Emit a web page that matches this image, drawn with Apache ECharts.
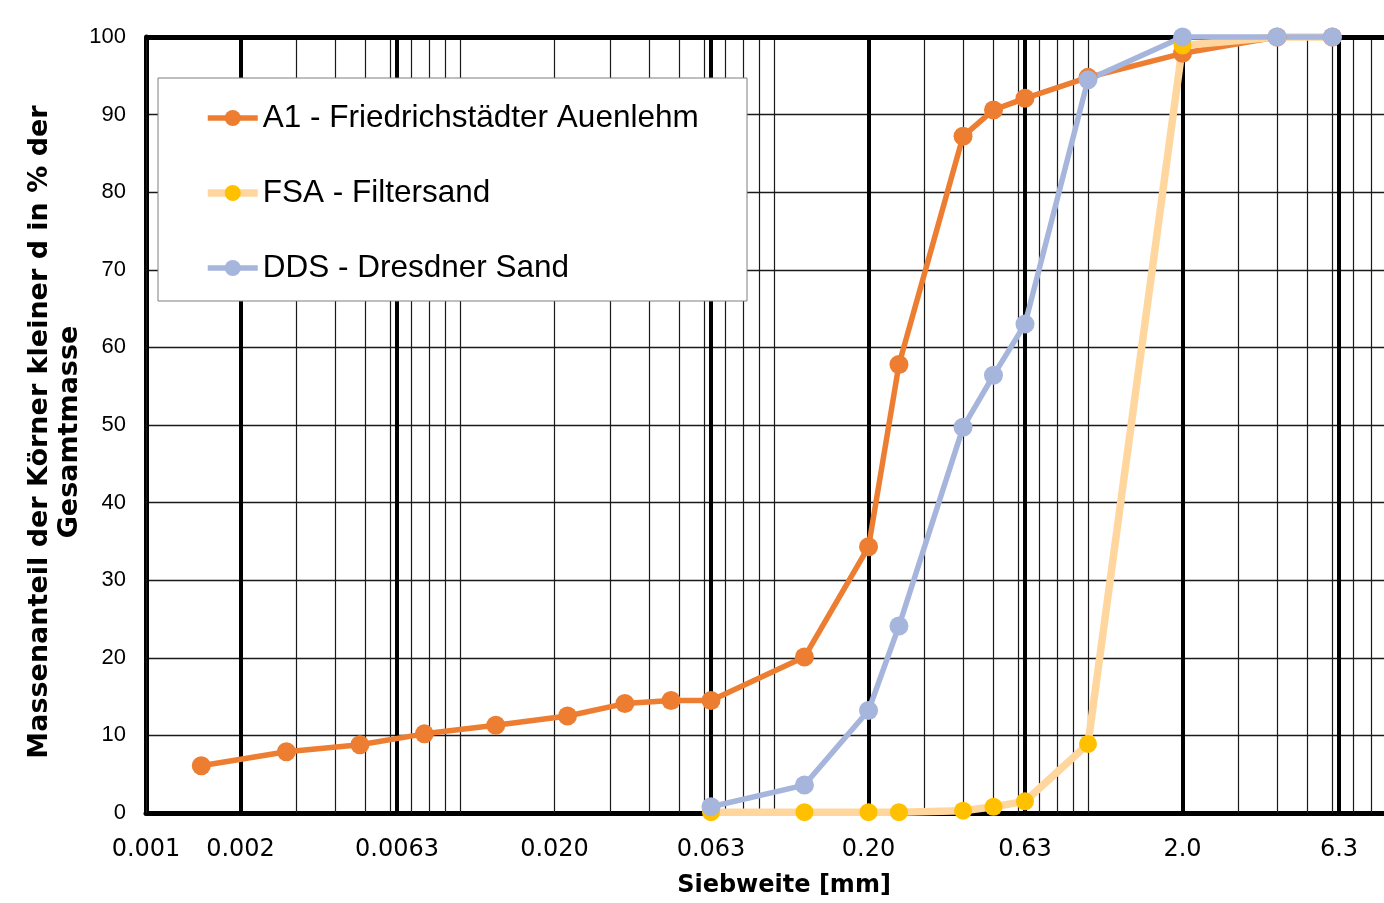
<!DOCTYPE html>
<html>
<head>
<meta charset="utf-8">
<script src="https://cdn.jsdelivr.net/npm/echarts@6.0.0/dist/echarts.min.js"></script>
<style>
  html, body { margin: 0; padding: 0; background: #ffffff; }
  #chart { width: 1384px; height: 903px; }
</style>
</head>
<body>
<div id="chart"></div>
<script>
// ---- Data (sieve size in mm, mass passing in %) ----
const seriesNames = ['A1 - Friedrichstädter Auenlehm', 'FSA - Filtersand', 'DDS - Dresdner Sand'];

const a1Sizes  = [0.0015, 0.0028, 0.0048, 0.0077, 0.013, 0.022, 0.0335, 0.047, 0.063, 0.125, 0.2, 0.25, 0.4, 0.5, 0.63, 1.0, 2.0, 4.0, 6.0];
const a1Values = [6.1, 7.9, 8.8, 10.2, 11.3, 12.5, 14.1, 14.5, 14.5, 20.1, 34.3, 57.8, 87.2, 90.6, 92.1, 94.8, 97.9, 100, 100];

const sandSizes = [0.063, 0.125, 0.2, 0.25, 0.4, 0.5, 0.63, 1.0, 2.0, 4.0, 6.0];
const fsaValues = [0.1, 0.1, 0.1, 0.1, 0.3, 0.8, 1.5, 8.9, 98.9, 100, 100];
const ddsValues = [0.8, 3.6, 13.2, 24.1, 49.7, 56.4, 63.0, 94.5, 100, 100, 100];

// x-axis tick labels (sieve sizes) and which of them get a heavy grid line
const tickValues = [0.001, 0.002, 0.0063, 0.02, 0.063, 0.2, 0.63, 2.0, 6.3];
const tickLabels = ['0.001', '0.002', '0.0063', '0.020', '0.063', '0.20', '0.63', '2.0', '6.3'];
const majorTicks = [0.002, 0.0063, 0.063, 0.2, 0.63, 2.0, 6.3];

const yTitle = 'Massenanteil der Körner kleiner d in % der\nGesamtmasse';
const xTitle = 'Siebweite [mm]';

// ---- Grid lines (log grid: 1..9 x each decade) ----
function near(a, b) { return Math.abs(a - b) / b < 1e-6; }
const gridLineData = [];
for (let e = -3; e <= 0; e++) {
  for (let k = 1; k <= 9; k++) {
    const v = parseFloat((k * Math.pow(10, e)).toPrecision(6));
    if (tickValues.some(t => near(t, v))) continue;
    gridLineData.push({ xAxis: v, lineStyle: { width: 1.2, color: '#1a1a1a', type: 'solid' } });
  }
}
tickValues.forEach((v, i) => {
  const major = majorTicks.some(t => near(t, v));
  gridLineData.push({
    xAxis: v,
    lineStyle: { width: major ? 4 : 1.2, color: major ? '#000' : '#1a1a1a', type: 'solid' },
    label: {
      show: true, position: 'start', distance: 25, formatter: tickLabels[i],
      fontFamily: 'DejaVu Sans', fontSize: 24, color: '#000'
    }
  });
});
// heavy top border
gridLineData.push({ yAxis: 100, lineStyle: { width: 5, color: '#000', type: 'solid' } });

const pairs = (xs, ys) => xs.map((x, i) => [x, ys[i]]);

const chart = echarts.init(document.getElementById('chart'), null, { renderer: 'canvas' });
chart.setOption({
  animation: false,
  backgroundColor: '#ffffff',
  grid: { left: 146, top: 37, right: -18, bottom: 90, containLabel: false, outerBoundsMode: 'none' },
  xAxis: {
    type: 'log', logBase: 10, min: 0.001, max: 10,
    name: xTitle, nameLocation: 'middle', nameGap: 61, nameMoveOverlap: false,
    nameTextStyle: { fontFamily: 'DejaVu Sans', fontWeight: 'bold', fontSize: 24, color: '#000', padding: [0, 0, 0, 20] },
    axisLine: { show: true, lineStyle: { color: '#000', width: 5 } },
    axisTick: { show: false },
    axisLabel: { show: false },
    splitLine: { show: false },
    minorSplitLine: { show: false }
  },
  yAxis: {
    type: 'value', min: 0, max: 100, interval: 10,
    name: yTitle, nameLocation: 'middle', nameGap: 61, nameMoveOverlap: false,
    nameTextStyle: { fontFamily: 'DejaVu Sans', fontWeight: 'bold', fontSize: 27, lineHeight: 30, color: '#000', padding: [0, 14, 0, 0] },
    axisLine: { show: true, lineStyle: { color: '#000', width: 5 } },
    axisTick: { show: false },
    axisLabel: { fontFamily: 'Liberation Sans', fontSize: 22, color: '#000', margin: 20 },
    splitLine: { show: true, lineStyle: { color: '#1a1a1a', width: 1.3 } }
  },
  legend: {
    data: seriesNames,
    orient: 'vertical',
    left: 204, top: 102,
    itemWidth: 50, itemHeight: 20, itemGap: 43,
    padding: 0,
    textStyle: { fontFamily: 'Liberation Sans', fontSize: 31.5, color: '#000' },
    lineStyle: { width: 'inherit' },
    selectedMode: false,
    z: 5
  },
  graphic: {
    elements: [{
      type: 'rect', x: 158, y: 78, z: 3,
      shape: { x: 0, y: 0, width: 589, height: 223 },
      style: { fill: '#ffffff', stroke: '#7f7f7f', lineWidth: 1 },
      silent: true
    }]
  },
  series: [
    {
      name: seriesNames[0], type: 'line', z: 2, clip: false,
      data: pairs(a1Sizes, a1Values),
      symbol: 'circle', symbolSize: 19,
      lineStyle: { color: '#ED7D31', width: 5.5 },
      itemStyle: { color: '#ED7D31' },
      emphasis: { disabled: true },
      markLine: {
        silent: true, z: 1, animation: false, precision: 10,
        symbol: ['none', 'none'],
        label: { show: false },
        emphasis: { disabled: true },
        data: gridLineData
      }
    },
    {
      name: seriesNames[1], type: 'line', z: 2, clip: false,
      data: pairs(sandSizes, fsaValues),
      symbol: 'circle', symbolSize: 18,
      lineStyle: { color: '#FFD79E', width: 7.5 },
      itemStyle: { color: '#FFC000' },
      emphasis: { disabled: true }
    },
    {
      name: seriesNames[2], type: 'line', z: 2, clip: false,
      data: pairs(sandSizes, ddsValues),
      symbol: 'circle', symbolSize: 19,
      lineStyle: { color: '#A6B5DC', width: 5.5 },
      itemStyle: { color: '#A6B5DC' },
      emphasis: { disabled: true }
    }
  ]
});
</script>
</body>
</html>
